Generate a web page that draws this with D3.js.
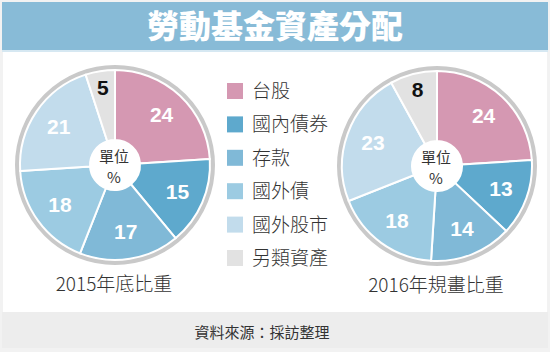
<!DOCTYPE html>
<html>
<head>
<meta charset="utf-8">
<script src="https://cdn.jsdelivr.net/npm/d3@7"></script>
<style>
  body { margin: 0; background: #f2f2f2; }
  text { font-family: "Noto Sans CJK TC", "Noto Sans", sans-serif; }
  .num { font-family: "Liberation Sans", Arial, sans-serif; font-weight: bold; }
</style>
</head>
<body>
<div id="chart"></div>
<script>
// categories and values
var categories = ["台股", "國內債券", "存款", "國外債", "國外股市", "另類資產"]
var values2015 = [24, 15, 17, 18, 21, 5]
var values2016 = [24, 13, 14, 18, 23, 8]
var captions = ["2015年底比重", "2016年規畫比重"]
var colors = ["#d598b2", "#5ea9cd", "#80b9d7", "#9ccbe2", "#c2dcec", "#e2e2e2"]

var width = 550, height = 352

var svg = d3.select("#chart")
    .append("svg")
    .attr("width", width)
    .attr("height", height)

// background panels
svg.append("rect").attr("x", 0).attr("y", 0).attr("width", width).attr("height", height).attr("fill", "#f2f2f2")
svg.append("rect").attr("x", 3).attr("y", 50).attr("width", 544).attr("height", 262).attr("fill", "#ffffff")
svg.append("rect").attr("x", 2).attr("y", 2).attr("width", 546).attr("height", 48).attr("fill", "#88bbd7")
svg.append("rect").attr("x", 2).attr("y", 50).attr("width", 546).attr("height", 2).attr("fill", "#d6e8f2")
svg.append("rect").attr("x", 2).attr("y", 312).attr("width", 546).attr("height", 36).attr("fill", "#ededed")

// title
svg.append("text")
    .attr("x", 275).attr("y", 38)
    .attr("text-anchor", "middle")
    .attr("fill", "#ffffff")
    .attr("font-size", 32)
    .attr("font-weight", 900)
    .text("勞動基金資產分配")

// footer
svg.append("text")
    .attr("x", 262).attr("y", 338)
    .attr("text-anchor", "middle")
    .attr("fill", "#333")
    .attr("font-size", 15)
    .text("資料來源：採訪整理")

var color = d3.scaleOrdinal().domain(categories).range(colors)

var pie = d3.pie().sort(null).value(function (d) { return d.value })
var arc = d3.arc().innerRadius(25).outerRadius(95)
var labelArc = d3.arc().innerRadius(68).outerRadius(68)
var smallArc = d3.arc().innerRadius(78).outerRadius(78)

function drawPie(cx, cy, values, caption) {
    var data = categories.map(function (c, i) { return { key: c, value: values[i] } })
    var g = svg.append("g").attr("transform", "translate(" + cx + "," + cy + ")")

    // outer gray ring
    g.append("circle").attr("r", 97.5).attr("fill", "none").attr("stroke", "#c9c9c9").attr("stroke-width", 5)

    g.selectAll("path")
        .data(pie(data))
        .enter().append("path")
        .attr("d", arc)
        .attr("fill", function (d) { return color(d.data.key) })
        .attr("stroke", "#ffffff")
        .attr("stroke-width", 2)

    g.append("circle").attr("r", 25).attr("fill", "#ffffff")

    g.selectAll(".num")
        .data(pie(data))
        .enter().append("text")
        .attr("class", "num")
        .attr("transform", function (d) {
            var a = d.data.value < 10 ? smallArc : labelArc
            var p = a.centroid(d)
            return "translate(" + p[0] + "," + (p[1] + 7) + ")"
        })
        .attr("text-anchor", "middle")
        .attr("font-size", 21)
        .attr("fill", function (d) { return d.data.value < 10 ? "#111" : "#ffffff" })
        .text(function (d) { return d.data.value })

    g.append("text").attr("x", -1).attr("y", -3).attr("text-anchor", "middle")
        .attr("font-size", 15).attr("fill", "#333").text("單位")
    g.append("text").attr("x", -1).attr("y", 18).attr("text-anchor", "middle")
        .attr("font-size", 15).attr("fill", "#333").text("%")

    svg.append("text")
        .attr("x", cx - 1).attr("y", cy + 126)
        .attr("text-anchor", "middle")
        .attr("font-size", 19)
        .attr("font-weight", 300)
        .attr("fill", "#333")
        .text(caption)
}

drawPie(115, 165, values2015, captions[0])
drawPie(437, 166, values2016, captions[1])

// legend
var y = d3.scalePoint().domain(categories).range([91, 258])
var legend = svg.append("g")
legend.selectAll("rect")
    .data(categories)
    .enter().append("rect")
    .attr("x", 227)
    .attr("y", function (d) { return y(d) - 8 })
    .attr("width", 16).attr("height", 16)
    .attr("fill", function (d) { return color(d) })
legend.selectAll("text")
    .data(categories)
    .enter().append("text")
    .attr("x", 252)
    .attr("y", function (d) { return y(d) + 7 })
    .attr("font-size", 19)
    .attr("font-weight", 300)
    .attr("fill", "#333")
    .text(function (d) { return d })
</script>
</body>
</html>
